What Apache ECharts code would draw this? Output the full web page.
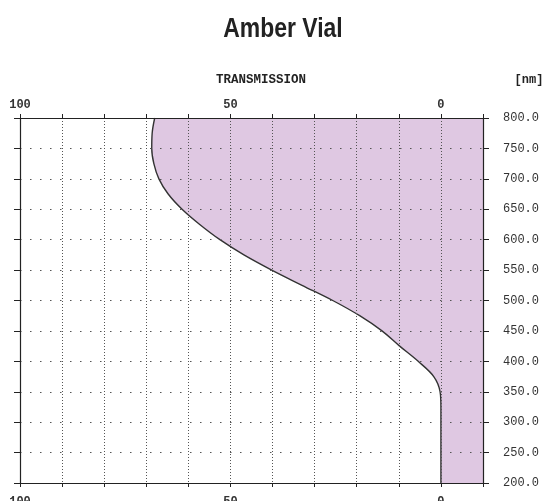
<!DOCTYPE html>
<html>
<head>
<meta charset="utf-8">
<script src="https://cdn.jsdelivr.net/npm/echarts@6/dist/echarts.min.js"></script>
<style>
  html, body { margin: 0; padding: 0; background: #fff; }
  #chart { width: 547px; height: 501px; }
</style>
</head>
<body>
<div id="chart"></div>
<script>
  // wavelength categories [nm], bottom to top
  const wavelengths = ['200', '225', '250', '275', '300', '325', '350', '375', '400', '425', '450', '475', '500',
    '525', '550', '575', '600', '625', '650', '675', '700', '725', '750', '775', '800'];
  // transmission [%]
  const transmission = [0, 0, 0, 0, 0, 0, 0.2, 1.7, 5.4, 9.8, 14, 19.3, 25.7,
    33, 40.2, 46.8, 52.5, 57.3, 61.5, 64.8, 67, 68.2, 68.7, 68.6, 68];
  const xTickLabels = [100, 50, 0];

  const monoFont = 'Liberation Mono';
  const axisColor = '#222';
  const dotColor = '#555';

  let chart = echarts.init(document.getElementById('chart'));

  function xAxisOf(position, showSplit, labelMargin) {
    return {
      type: 'value',
      position: position,
      z: 3,
      min: -10,
      max: 100,
      interval: 10,
      inverse: true,
      axisLine: {show: true, onZero: false, lineStyle: {color: axisColor, width: 1.2}},
      axisTick: {show: true, length: 4, lineStyle: {color: axisColor}},
      axisLabel: {
        margin: labelMargin,
        fontFamily: monoFont,
        fontSize: 12,
        fontWeight: 'bold',
        color: '#333',
        formatter: (v) => xTickLabels.indexOf(v) >= 0 ? String(v) : ''
      },
      splitLine: {show: showSplit, lineStyle: {color: dotColor, type: [1, 2], width: 1}}
    };
  }

  function yAxisOf(position, showLabels, showSplit) {
    return {
      type: 'category',
      position: position,
      z: 3,
      data: wavelengths,
      boundaryGap: false,
      axisLine: {show: true, onZero: false, lineStyle: {color: axisColor, width: 1.2}},
      axisTick: {show: true, interval: 1, length: 6, lineStyle: {color: axisColor}},
      axisLabel: {
        show: showLabels,
        interval: 1,
        margin: 20,
        fontFamily: monoFont,
        fontSize: 12,
        color: '#333',
        formatter: (v) => Number(v).toFixed(1)
      },
      splitLine: {show: showSplit, interval: 1, lineStyle: {color: dotColor, type: [1.5, 8.5], width: 1}}
    };
  }

  let option = {
    animation: false,
    backgroundColor: '#fff',
    grid: {left: 20, right: 64, top: 118, bottom: 18, outerBoundsMode: 'none'},
    graphic: [
      {
        type: 'text', x: 283, y: 30, scaleX: 0.85,
        style: {text: 'Amber Vial', font: 'bold 27px "Liberation Sans", Arial, sans-serif',
          fill: '#222', textAlign: 'center', textVerticalAlign: 'middle'}
      },
      {
        type: 'text', x: 261, y: 80,
        style: {text: 'TRANSMISSION', font: 'bold 12.5px "Liberation Mono", monospace',
          fill: '#222', textAlign: 'center', textVerticalAlign: 'middle'}
      },
      {
        type: 'text', x: 529, y: 80,
        style: {text: '[nm]', font: 'bold 12px "Liberation Mono", monospace',
          fill: '#222', textAlign: 'center', textVerticalAlign: 'middle'}
      }
    ],
    xAxis: [xAxisOf('top', true, 7), xAxisOf('bottom', false, 13)],
    yAxis: [yAxisOf('right', true, true), yAxisOf('left', false, false)],
    series: [
      {
        type: 'line',
        xAxisIndex: 0,
        yAxisIndex: 0,
        data: transmission,
        smooth: 0.35,
        symbol: 'none',
        lineStyle: {color: '#333', width: 1.4},
        areaStyle: {color: '#dfc8e2', opacity: 1, origin: 'start'},
        z: 1
      }
    ]
  };

  chart.setOption(option);
</script>
</body>
</html>
